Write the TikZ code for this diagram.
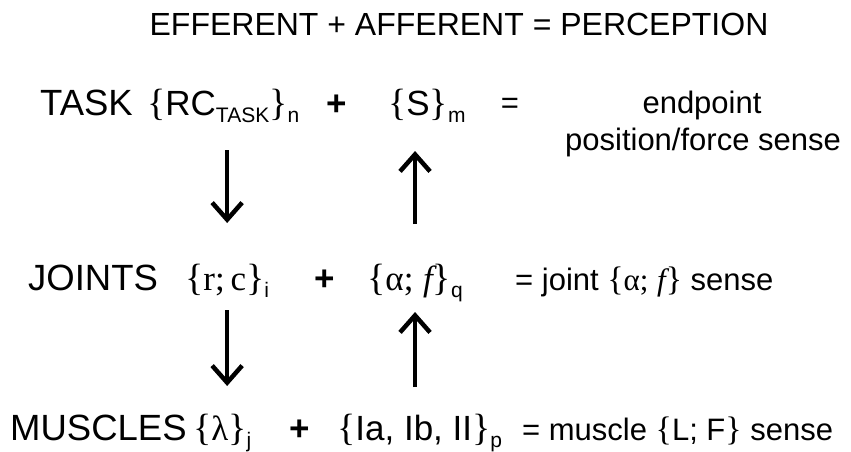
\documentclass[tikz,border=0pt]{standalone}
\usepackage{fontspec}
\setmainfont{Liberation Sans}
\newfontfamily\sergrk{Liberation Serif}
\usetikzlibrary{arrows.meta,calc}
\newcommand\Lbr{{\fontsize{38}{38}\sergrk\selectfont\{}}
\newcommand\Rbr{{\fontsize{38}{38}\sergrk\selectfont\}}}
\newcommand\lbrs{{\fontsize{34}{34}\sergrk\selectfont\{}}
\newcommand\rbrs{{\fontsize{34}{34}\sergrk\selectfont\}}}
\newcommand\SubT[1]{\raisebox{-0.22em}{\fontsize{21}{21}\selectfont #1}}
\newcommand\itfx{{\sergrk\itshape f}}
\newcommand\galpha{{\sergrk α}}
\newcommand\glambda{{\sergrk λ}}
\tikzset{
  lab/.style={font=\fontsize{36.5}{36.5}\selectfont, inner sep=0pt, anchor=base west},
  big/.style={font=\fontsize{35}{35}\selectfont, inner sep=0pt, anchor=base west},
  plus/.style={font=\fontsize{35}{35}\selectfont\bfseries, inner sep=0pt, anchor=base},
  res/.style={font=\fontsize{31}{31}\selectfont, inner sep=0pt, anchor=base west},
  resc/.style={font=\fontsize{31}{31}\selectfont, inner sep=0pt, anchor=base},
  arr/.style={line width=4.5pt, -{Straight Barb[length=17pt,width=30pt,line width=4.5pt]}}
}
\begin{document}
\begin{tikzpicture}[x=1pt,y=-1pt]
\useasboundingbox[fill=white] (0,0) rectangle (851,451);
% title
\node[font=\fontsize{32}{32}\selectfont, inner sep=0pt, anchor=base] (title) at (459,35) {EFFERENT + AFFERENT = PERCEPTION};
% row 1
\node[lab] (task) at (40,115) {TASK};
\node[big] (rc) at (147,115) {\Lbr RC\SubT{TASK}\Rbr\SubT{n}};
\node[plus] (p1) at (337,115) {+};
\node[big] (s) at (388,115) {\Lbr S\Rbr\SubT{m}};
\node[resc] (e1) at (510,113) {=};
\node[resc] (ep) at (702,113) {endpoint};
\node[resc] (pf) at (703,150) {position/force sense};
% row 2
\node[lab] (joints) at (28,290) {JOINTS};
\node[big] (rcj) at (185,290) {\Lbr{\sergrk r;\,c}\Rbr\SubT{i}};
\node[plus] (p2) at (325,290) {+};
\node[big] (af) at (367,290) {\Lbr\galpha{\sergrk;} \itfx\Rbr\SubT{q}};
\node[res] (r2) at (515,290) {= joint \lbrs\galpha{\sergrk;} \itfx\rbrs\ sense};
% row 3
\node[lab] (mus) at (10,440) {MUSCLES};
\node[big] (lam) at (193,440) {\Lbr\glambda\Rbr\SubT{j}};
\node[plus] (p3) at (300,440) {+};
\node[big] (ia) at (337,440) {\Lbr Ia, Ib, II\Rbr\SubT{p}};
\node[res] (r3) at (522,440) {= muscle \lbrs L; F\rbrs\ sense};
% arrows
\draw[arr] ($(rcj.base |- rc.base)+(0,35)$) -- ($(rcj.base)+(0,-67)$);
\draw[arr] ($(af.base)+(0,-66)$) -- ($(af.base |- s.base)+(0,36)$);
\draw[arr] ($(rcj.base)+(0,20)$) -- ($(rcj.base |- lam.base)+(0,-54)$);
\draw[arr] ($(af.base |- ia.base)+(0,-53)$) -- ($(af.base)+(0,22)$);
\end{tikzpicture}
\end{document}
